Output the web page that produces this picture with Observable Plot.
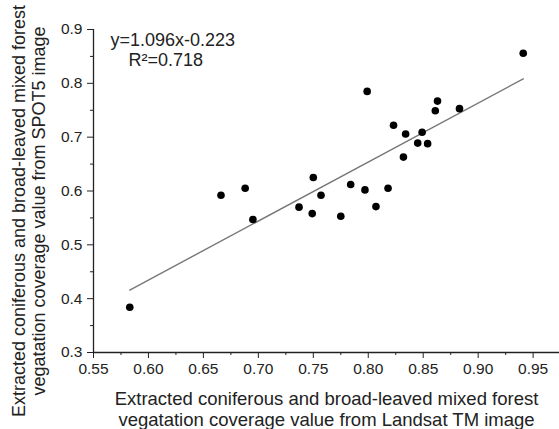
<!DOCTYPE html>
<html>
<head>
<meta charset="utf-8">
<script src="https://cdn.jsdelivr.net/npm/d3@7"></script>
<script src="https://cdn.jsdelivr.net/npm/@observablehq/plot@0.6"></script>
<style>
  html, body { margin: 0; padding: 0; background: #fff; }
  #chart svg { display: block; }
</style>
</head>
<body>
<div id="chart"></div>
<script>
// Landsat TM derived coverage (x) and SPOT5 derived coverage (y)
const landsat = [0.583, 0.666, 0.688, 0.695, 0.737, 0.749, 0.750, 0.757, 0.775, 0.784,
                 0.797, 0.799, 0.807, 0.818, 0.823, 0.832, 0.834, 0.845, 0.849, 0.854,
                 0.861, 0.863, 0.883, 0.941];
const spot5   = [0.384, 0.592, 0.605, 0.547, 0.570, 0.558, 0.625, 0.592, 0.553, 0.612,
                 0.602, 0.785, 0.571, 0.605, 0.722, 0.663, 0.706, 0.689, 0.709, 0.688,
                 0.749, 0.767, 0.753, 0.856];
const slope = 1.096, intercept = -0.223, r2 = 0.718;
const xTicks = [0.55, 0.60, 0.65, 0.70, 0.75, 0.80, 0.85, 0.90, 0.95];
const yTicks = [0.3, 0.4, 0.5, 0.6, 0.7, 0.8, 0.9];
const xMinor = [0.575, 0.625, 0.675, 0.725, 0.775, 0.825, 0.875, 0.925];
const yMinor = [0.35, 0.45, 0.55, 0.65, 0.75, 0.85];
const xTitle = "Extracted coniferous and broad-leaved mixed forest\nvegatation coverage value from Landsat TM image";
const yTitle = "Extracted coniferous and broad-leaved mixed forest\nvegatation coverage value from SPOT5 image";
const eqLine = "y=1.096x-0.223";
const r2Line = "R\u00B2=0.718";

const points = landsat.map((x, i) => ({x, y: spot5[i]}));
const xmin = d3.min(landsat), xmax = d3.max(landsat);
const fit = [xmin, xmax].map(x => ({x, y: slope * x + intercept}));

const ink = "#222";
const chart = Plot.plot({
  width: 559,
  height: 429,
  marginLeft: 93,
  marginRight: 0,
  marginTop: 29,
  marginBottom: 77,
  style: {fontFamily: "Arial, 'Liberation Sans', sans-serif", color: ink, background: "#fff"},
  x: {domain: [0.55, 0.974]},
  y: {domain: [0.3, 0.9]},
  marks: [
    Plot.ruleY([0.3], {stroke: ink, strokeWidth: 1.3}),
    Plot.ruleX([0.55], {y1: 0.3, y2: 0.9, stroke: ink, strokeWidth: 1.3}),
    Plot.axisX(xTicks, {tickSize: 6, tickPadding: 4, tickFormat: d3.format(".2f"), fontSize: 15.5, stroke: ink, fill: ink, label: null}),
    Plot.axisX(xMinor, {tickSize: 3, tickFormat: () => "", stroke: ink, label: null}),
    Plot.axisY(yTicks, {tickSize: 6, tickPadding: 5, tickFormat: d3.format(".1f"), fontSize: 15.5, stroke: ink, fill: ink, label: null}),
    Plot.axisY(yMinor, {tickSize: 3, tickFormat: () => "", stroke: ink, label: null}),
    Plot.line(fit, {x: "x", y: "y", stroke: "#777", strokeWidth: 1.4}),
    Plot.dot(points, {x: "x", y: "y", r: 3.8, fill: "#000", stroke: "none"}),
    Plot.text([eqLine], {frameAnchor: "top-left", dx: 17, dy: 11, textAnchor: "start", lineAnchor: "middle", fontSize: 18, fill: ink}),
    Plot.text([r2Line], {frameAnchor: "top-left", dx: 35, dy: 31, textAnchor: "start", lineAnchor: "middle", fontSize: 18, fill: ink}),
    Plot.text([xTitle], {frameAnchor: "bottom", dy: 56.5, textAnchor: "middle", lineAnchor: "middle", fontSize: 18.5, lineHeight: 1.14, fill: ink}),
    Plot.text([yTitle], {frameAnchor: "left", dx: -65, dy: 20, rotate: -90, textAnchor: "middle", lineAnchor: "middle", fontSize: 18, lineHeight: 1.1, fill: ink})
  ]
});
document.getElementById("chart").appendChild(chart);
</script>
</body>
</html>
